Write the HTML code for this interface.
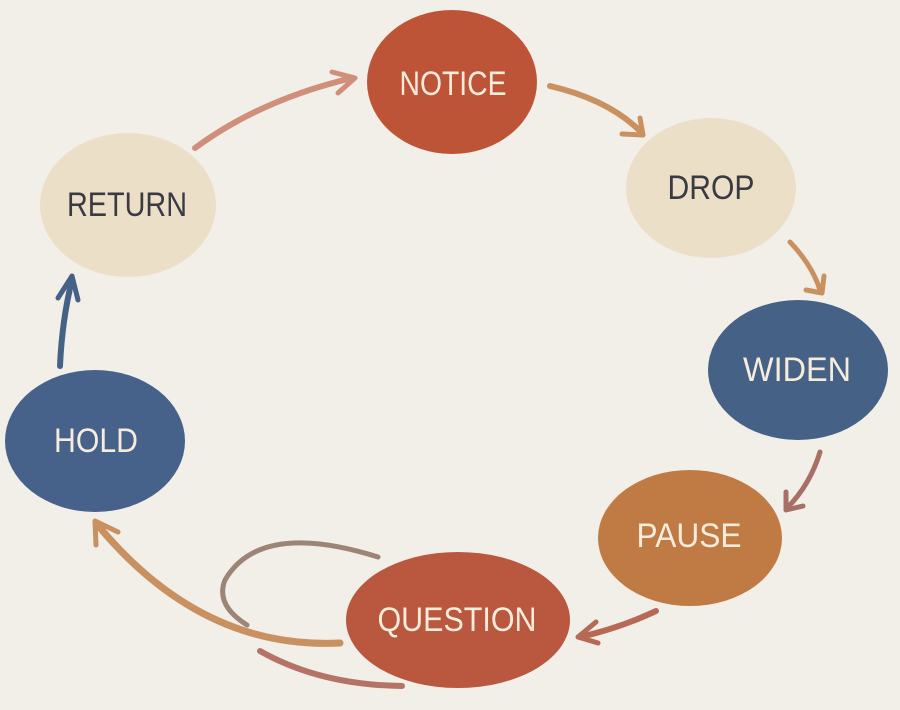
<!DOCTYPE html>
<html><head><meta charset="utf-8"><style>
html,body{margin:0;padding:0;background:#f2eee8;}
svg{display:block}
text{font-family:"Liberation Sans Narrow","Liberation Sans",sans-serif;font-size:34px;text-anchor:middle;dominant-baseline:central}
</style></head><body>
<svg width="900" height="710" viewBox="0 0 900 710" xmlns="http://www.w3.org/2000/svg">
<rect width="900" height="710" fill="#f2eee8"/>
<g fill="none" stroke-linecap="round" stroke-linejoin="round">
<path d="M195 148 Q260 100 352 78" stroke="#cf8f7a" stroke-width="6"/>
<path d="M332 72 L355 78 L338 93" stroke="#cf8f7a" stroke-width="5"/>
<path d="M550 86 Q610 100 642 133" stroke="#c99060" stroke-width="6"/>
<path d="M622 134 L643 135 L640 118" stroke="#c99060" stroke-width="5"/>
<path d="M790 242 Q812 265 820 290" stroke="#c99060" stroke-width="5"/>
<path d="M806 290 L822 293 L824 276" stroke="#c99060" stroke-width="5"/>
<path d="M820 452 Q810 485 787 508" stroke="#a86f65" stroke-width="5"/>
<path d="M786 492 L786 510 L803 506" stroke="#a86f65" stroke-width="5"/>
<path d="M656 611 Q620 628 580 637" stroke="#b66a55" stroke-width="6"/>
<path d="M596 622 L578 637 L598 643" stroke="#b66a55" stroke-width="5"/>
<path d="M340 643 Q200 650 96 523" stroke="#c99060" stroke-width="7"/>
<path d="M96 545 L95 521 L118 532" stroke="#c99060" stroke-width="5"/>
<path d="M378 557 Q260 520 225 580 Q215 605 247 625" stroke="#9c8576" stroke-width="5"/>
<path d="M260 651 Q320 685 402 686" stroke="#b57266" stroke-width="6"/>
<path d="M60 366 Q62 320 72 280" stroke="#466186" stroke-width="6"/>
<path d="M58 298 L72 276 L78 300" stroke="#466186" stroke-width="5"/>
</g>
<ellipse cx="452" cy="82" rx="85" ry="72" fill="#bd5437"/>
<ellipse cx="711" cy="188" rx="85" ry="70" fill="#ecdfc8"/>
<ellipse cx="798" cy="370" rx="90" ry="70" fill="#466186"/>
<ellipse cx="690" cy="538" rx="92" ry="68" fill="#c07a43"/>
<ellipse cx="458" cy="620" rx="112" ry="68" fill="#b9573f"/>
<ellipse cx="95" cy="441" rx="90" ry="71" fill="#46618a"/>
<ellipse cx="128" cy="205" rx="88" ry="72" fill="#ecdfc8"/>
<text x="453" y="84" fill="#f6ecdc" textLength="107" lengthAdjust="spacingAndGlyphs">NOTICE</text>
<text x="711" y="188" fill="#3a3a42" textLength="87" lengthAdjust="spacingAndGlyphs">DROP</text>
<text x="797" y="370" fill="#f6ecdc" textLength="108" lengthAdjust="spacingAndGlyphs">WIDEN</text>
<text x="689" y="536" fill="#f6ecdc" textLength="105" lengthAdjust="spacingAndGlyphs">PAUSE</text>
<text x="457" y="620" fill="#f6ecdc" textLength="159" lengthAdjust="spacingAndGlyphs">QUESTION</text>
<text x="96" y="441" fill="#f6ecdc" textLength="84" lengthAdjust="spacingAndGlyphs">HOLD</text>
<text x="127" y="205" fill="#3a3a42" textLength="120" lengthAdjust="spacingAndGlyphs">RETURN</text>
</svg>
</body></html>
